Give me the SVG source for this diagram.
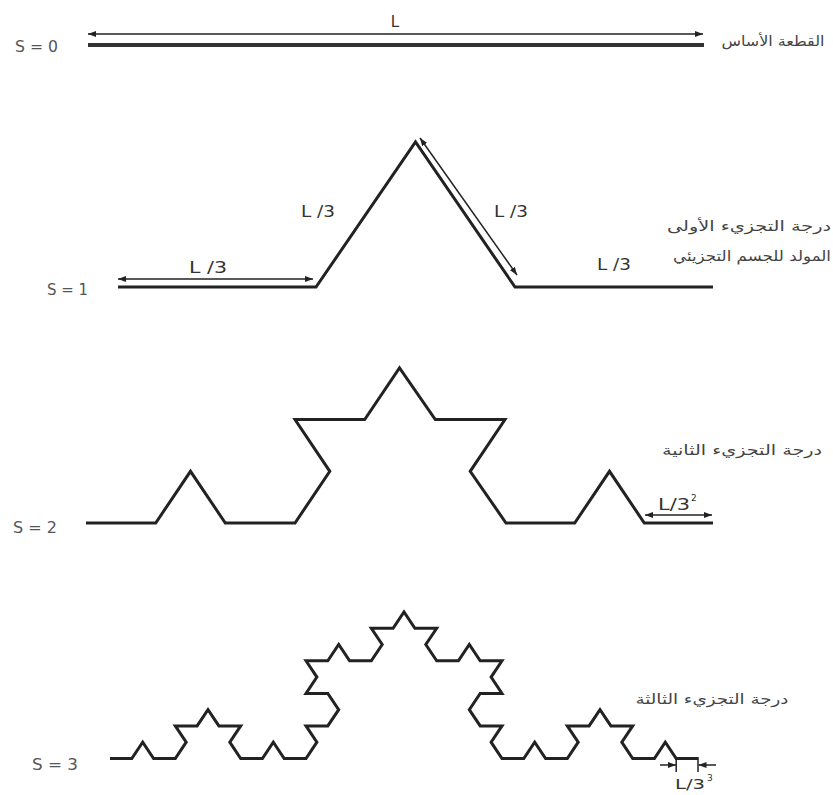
<svg xmlns="http://www.w3.org/2000/svg" width="833" height="795" viewBox="0 0 833 795">
<style>
.curve{fill:none;stroke:#222;stroke-width:3;stroke-linejoin:miter;stroke-linecap:butt}
.arr{fill:none;stroke:#222;stroke-width:1.5;marker-start:url(#ah);marker-end:url(#ah)}
.arr1{fill:none;stroke:#222;stroke-width:1.5;marker-end:url(#ah)}
.tick{fill:none;stroke:#222;stroke-width:1.5}
.s{font-family:"DejaVu Sans","Liberation Sans",sans-serif;font-size:15px;fill:#555}
.l{font-family:"DejaVu Sans","Liberation Sans",sans-serif;font-size:15px;fill:#333;text-anchor:middle}
.sup{font-family:"DejaVu Sans","Liberation Sans",sans-serif;font-size:9px;fill:#333}
.ar{font-family:"DejaVu Sans","Noto Sans",sans-serif;font-size:14px;fill:#444;text-anchor:middle}
</style>
<defs>
<marker id="ah" viewBox="0 0 8 6" refX="8" refY="3" markerWidth="8" markerHeight="6" markerUnits="userSpaceOnUse" orient="auto-start-reverse">
<path d="M0,0 L8,3 L0,6 z" fill="#222"/>
</marker>
</defs>
<rect width="833" height="795" fill="#fff"/>

<g id="level0">
<line class="curve" x1="88" y1="45" x2="704" y2="45" style="stroke:#333;stroke-width:4"/>
<text class="s" x="15" y="52" textLength="43" lengthAdjust="spacingAndGlyphs">S = 0</text>
<text class="l" x="395" y="27">L</text>
<text class="ar" x="773" y="46" textLength="103" lengthAdjust="spacingAndGlyphs">القطعة الأساس</text>
</g>

<g id="level1">
<polyline class="curve" points="118,287 316,287 415.5,142 515,287 713,287"/>
<text class="s" x="47" y="295" textLength="41" lengthAdjust="spacingAndGlyphs">S = 1</text>
<text class="l" x="208" y="273" textLength="38" lengthAdjust="spacingAndGlyphs">L /3</text>
<text class="l" x="318" y="217" textLength="34" lengthAdjust="spacingAndGlyphs">L /3</text>
<text class="l" x="511" y="217" textLength="34" lengthAdjust="spacingAndGlyphs">L /3</text>
<text class="l" x="614" y="270" textLength="34" lengthAdjust="spacingAndGlyphs">L /3</text>
<text class="ar" x="749" y="231" textLength="164" lengthAdjust="spacingAndGlyphs">درجة التجزيء الأولى</text>
<text class="ar" x="752" y="261" textLength="158" lengthAdjust="spacingAndGlyphs">المولد للجسم التجزيئي</text>
</g>

<g id="level2">
<polyline class="curve" points="86,523 155.7,523 190.5,471.3 225.3,523 295,523 329.8,471.3 295,419.6 364.7,419.6 399.5,368 435.3,419.6 505,419.6 470.2,471.3 506,523 574.7,523 609.5,471.3 644.3,523 713,523"/>
<text class="s" x="13" y="533" textLength="44" lengthAdjust="spacingAndGlyphs">S = 2</text>
<text class="l" x="674" y="510" textLength="32" lengthAdjust="spacingAndGlyphs">L/3</text>
<text class="sup" x="691" y="501">2</text>
<text class="ar" x="742" y="455" textLength="160" lengthAdjust="spacingAndGlyphs">درجة التجزيء الثانية</text>
</g>

<g id="level3">
<polyline class="curve" points="110,758.5 131.8,758.5 142.7,742.2 153.6,758.5 175.3,758.5 186.2,742.2 175.3,725.9 197.1,725.9 208,709.7 218.9,725.9 240.7,725.9 229.8,742.2 240.7,758.5 262.4,758.5 273.3,742.2 284.2,758.5 306,758.5 316.9,742.2 306,725.9 327.8,725.9 338.7,709.7 327.8,693.4 306,693.4 316.9,677.1 306,660.8 327.8,660.8 338.7,644.5 349.6,660.8 371.3,660.8 382.2,644.5 371.3,628.3 393.1,628.3 404,612 414.9,628.3 436.7,628.3 425.8,644.5 436.7,660.8 458.4,660.8 469.3,644.5 480.2,660.8 502,660.8 491.1,677.1 502,693.4 480.2,693.4 469.3,709.7 480.2,725.9 502,725.9 491.1,742.2 502,758.5 523.8,758.5 534.7,742.2 545.6,758.5 567.3,758.5 578.2,742.2 567.3,725.9 589.1,725.9 600,709.7 610.9,725.9 632.7,725.9 621.8,742.2 632.7,758.5 654.4,758.5 665.3,742.2 676.2,758.5 698,758.5"/>
<text class="s" x="32" y="770" textLength="46" lengthAdjust="spacingAndGlyphs">S = 3</text>
<text class="l" x="690" y="789" style="font-size:14px" textLength="30" lengthAdjust="spacingAndGlyphs">L/3</text>
<text class="sup" x="707" y="781">3</text>
<text class="ar" x="712" y="704" textLength="153" lengthAdjust="spacingAndGlyphs">درجة التجزيء الثالثة</text>
</g>

<g id="connectors">
<line class="arr" x1="88" y1="34" x2="703" y2="34"/>
<line class="arr" x1="118" y1="279" x2="313" y2="279"/>
<line class="arr" x1="420" y1="138" x2="517" y2="275"/>
<line class="arr" x1="645" y1="515" x2="712" y2="515"/>
<line class="tick" x1="676.2" y1="757" x2="676.2" y2="772"/>
<line class="tick" x1="698" y1="757" x2="698" y2="772"/>
<line class="arr1" x1="660" y1="765" x2="676" y2="765"/>
<line class="arr1" x1="716" y1="765" x2="698.5" y2="765"/>
</g>
</svg>
